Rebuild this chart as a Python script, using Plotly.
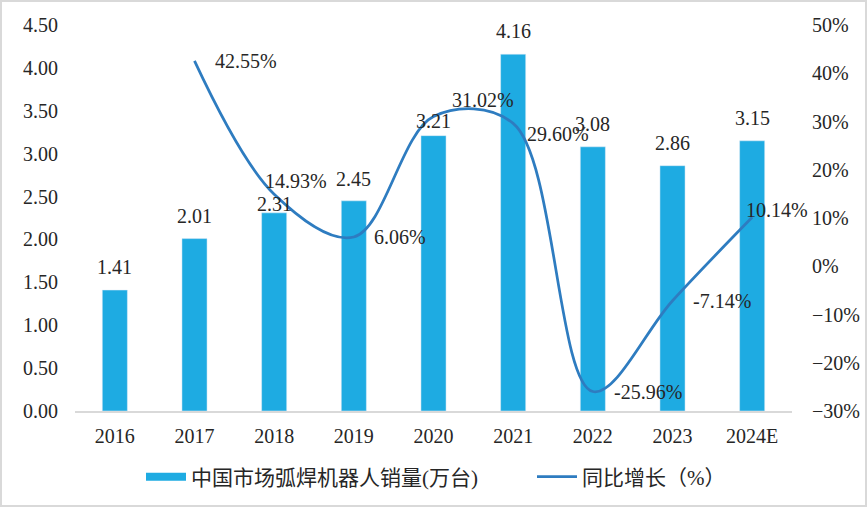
import plotly.graph_objects as go

years = ["2016", "2017", "2018", "2019", "2020", "2021", "2022", "2023", "2024E"]
sales = [1.41, 2.01, 2.31, 2.45, 3.21, 4.16, 3.08, 2.86, 3.15]
growth_years = ["2017", "2018", "2019", "2020", "2021", "2022", "2023", "2024E"]
growth = [42.55, 14.93, 6.06, 31.02, 29.60, -25.96, -7.14, 10.14]

bar_name = "中国市场弧焊机器人销量(万台)"
line_name = "同比增长（%）"

# label placement offsets (px), as placed in the reference
sales_label_dy = [23, 23, 9, 22, 15, 23, 23, 23, 23]
growth_label_dx = [18, -11, 18, 16, 12, 19, 18, -8]
growth_label_dy = [0, 13, 0, 17, -11, 0, 0, 7]

FONT = "Liberation Serif, Noto Sans CJK SC, serif"
TXT = "#262626"
BAR_C = "#1EABE2"
LINE_C = "#2E7CC0"

L, R, T, B = 75, 75, 25, 96
PW, PH = 867 - L - R, 507 - T - B

fig = go.Figure()
fig.add_trace(go.Bar(
    x=years, y=sales, name=bar_name, showlegend=False,
    marker=dict(color=BAR_C),
    width=0.315,
))
# legend swatch for the bars (wide rectangle as in the reference)
fig.add_trace(go.Scatter(
    x=[None], y=[None], name=bar_name, mode="lines",
    line=dict(color=BAR_C, width=8), legend="legend",
))
fig.add_trace(go.Scatter(
    x=growth_years, y=growth, name=line_name, yaxis="y2",
    mode="lines",
    line=dict(color=LINE_C, width=2.75, shape="spline", smoothing=1.0),
    legend="legend2",
))

# annotations on a category axis: position by category index
for cat, v, dy in zip(years, sales, sales_label_dy):
    fig.add_annotation(x=years.index(cat), y=v, xref="x", yref="y", text=f"{v:.2f}",
                       showarrow=False, xanchor="center", yanchor="middle",
                       yshift=dy, font=dict(size=20, color=TXT, family=FONT))
for cat, v, dx, dy in zip(growth_years, growth, growth_label_dx, growth_label_dy):
    fig.add_annotation(x=years.index(cat), y=v, xref="x", yref="y2", text=f"{v:.2f}%",
                       showarrow=False, xanchor="left", yanchor="middle",
                       xshift=dx, yshift=dy, font=dict(size=20, color=TXT, family=FONT))

legend_common = dict(orientation="h", y=-66 / PH, yanchor="middle", xanchor="left",
                     font=dict(size=21, family=FONT, color=TXT), itemwidth=40,
                     bgcolor="rgba(0,0,0,0)")

fig.update_layout(
    width=867, height=507,
    margin=dict(l=L, r=R, t=T, b=B, autoexpand=False),
    paper_bgcolor="white", plot_bgcolor="white",
    font=dict(family=FONT, size=20, color=TXT),
    xaxis=dict(
        type="category", showline=True, linecolor="#D9D9D9", linewidth=2,
        ticks="outside", ticklen=6, tickcolor="rgba(0,0,0,0)",
        showgrid=False, tickfont=dict(size=20), automargin=False,
        range=[-0.5, 8.5],
    ),
    yaxis=dict(
        range=[0, 4.5], dtick=0.5, tickformat=".2f", showgrid=False,
        zeroline=False, showline=False, ticks="outside", ticklen=12,
        tickcolor="rgba(0,0,0,0)", tickfont=dict(size=20), automargin=False,
    ),
    yaxis2=dict(
        range=[-30, 50], dtick=10, ticksuffix="%", overlaying="y", side="right",
        showgrid=False, zeroline=False, showline=False, ticks="outside", ticklen=15,
        tickcolor="rgba(0,0,0,0)", tickfont=dict(size=20), automargin=False,
    ),
    legend=dict(x=66 / PW, **legend_common),
    legend2=dict(x=457 / PW, **legend_common),
)
fig.add_shape(type="rect", xref="paper", yref="paper",
              x0=-L / PW, x1=1 + R / PW, y0=-B / PH, y1=1 + T / PH,
              line=dict(color="#D9D9D9", width=4), layer="below")

fig.write_html("out.html", config={"displayModeBar": False},
               post_script="document.body.style.margin='0';document.body.style.padding='0';")
